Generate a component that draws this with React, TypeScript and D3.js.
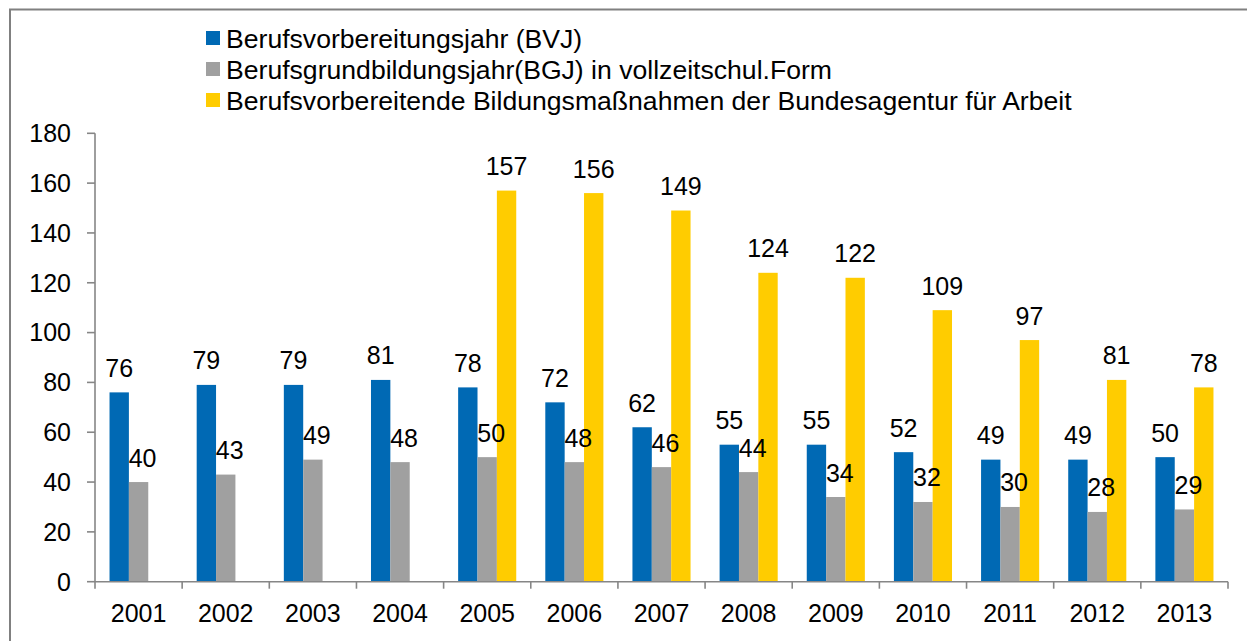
import React from "react";
import * as d3 from "d3";

const years = ["2001","2002","2003","2004","2005","2006","2007","2008","2009","2010","2011","2012","2013"];
const bvj = [76,79,79,81,78,72,62,55,55,52,49,49,50];
const bgj = [40,43,49,48,50,48,46,44,34,32,30,28,29];
const ba: (number | null)[] = [null,null,null,null,157,156,149,124,122,109,97,81,78];
const seriesNames = [
  "Berufsvorbereitungsjahr (BVJ)",
  "Berufsgrundbildungsjahr(BGJ) in vollzeitschul.Form",
  "Berufsvorbereitende Bildungsmaßnahmen der Bundesagentur für Arbeit",
];
const colors = ["#0069b4", "#a0a0a0", "#ffcc00"];
const yTicks = [0,20,40,60,80,100,120,140,160,180];

export default function App() {
  const W = 1247, H = 641;
  const left = 95, right = 1228, top = 133.3, bottom = 581.7;
  const x = d3.scaleBand<string>().domain(years).range([left, right]).paddingInner(0).paddingOuter(0);
  const y = d3.scaleLinear().domain([0, 180]).range([bottom, top]);
  const bw = x.bandwidth();
  const barW = bw * 0.2222;
  const groupOff = (bw - barW * 3) / 2;
  const series = [bvj, bgj, ba];
  const labelDx = [0, 4, 0];
  const font = "'Liberation Sans', Arial, sans-serif";
  const axisColor = "#868686";

  return (
    <svg width={W} height={H} style={{ position: "absolute", left: 0, top: 0, background: "#fff" }} fontFamily={font}>
      <rect x={0} y={0} width={W} height={H} fill="#fff" />
      {/* frame */}
      <path d={`M10,${H + 5} L10,9.5 L${W + 5},9.5`} fill="none" stroke="#808080" strokeWidth={2} />
      {/* legend */}
      {seriesNames.map((n, i) => (
        <g key={n} transform={`translate(206, ${38 + i * 31})`}>
          <rect x={0} y={-7} width={14} height={14} fill={colors[i]} />
          <text x={20} y={9.5} fontSize={26.6} fill="#000">{n}</text>
        </g>
      ))}
      {/* bars */}
      {series.map((s, si) =>
        s.map((v, i) =>
          v == null ? null : (
            <rect key={`${si}-${i}`} x={(x(years[i]) as number) + groupOff + si * barW} y={y(v)} width={barW} height={y(0) - y(v)} fill={colors[si]} />
          )
        )
      )}
      {/* labels */}
      {series.map((s, si) =>
        s.map((v, i) =>
          v == null ? null : (
            <text key={`l${si}-${i}`} x={(x(years[i]) as number) + groupOff + si * barW + barW / 2 + labelDx[si]} y={y(v) - 15.5} fontSize={25} textAnchor="middle" fill="#000">{v}</text>
          )
        )
      )}
      {/* y axis */}
      <line x1={left} x2={left} y1={top} y2={bottom + 7} stroke={axisColor} strokeWidth={1.6} />
      {yTicks.map((t) => (
        <g key={t}>
          <line x1={left - 8} x2={left} y1={y(t)} y2={y(t)} stroke={axisColor} strokeWidth={1.6} />
          <text x={71} y={y(t) + 8.9} fontSize={25} textAnchor="end" fill="#000">{t}</text>
        </g>
      ))}
      {/* x axis */}
      <line x1={left} x2={right} y1={bottom} y2={bottom} stroke={axisColor} strokeWidth={1.6} />
      {years.map((yr) => (
        <g key={yr}>
          <line x1={(x(yr) as number) + bw} x2={(x(yr) as number) + bw} y1={bottom} y2={bottom + 7} stroke={axisColor} strokeWidth={1.6} />
          <text x={(x(yr) as number) + bw / 2} y={622} fontSize={25} textAnchor="middle" fill="#000">{yr}</text>
        </g>
      ))}
    </svg>
  );
}
